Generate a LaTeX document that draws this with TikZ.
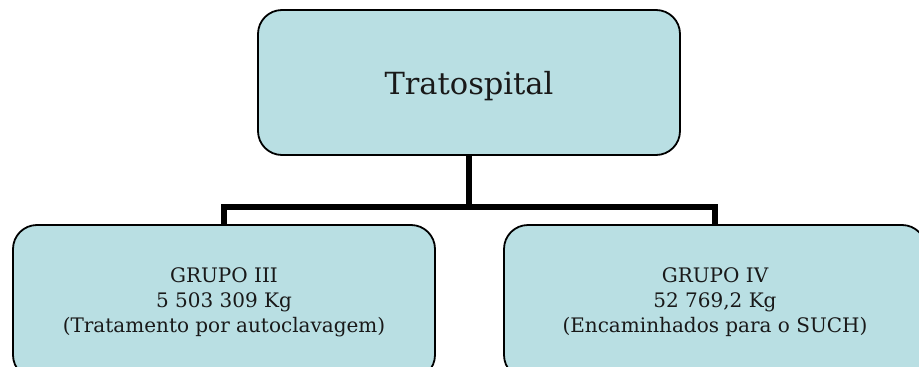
\documentclass[tikz,border=0pt]{standalone}
\usepackage{fontspec}
\setmainfont{DejaVu Serif}
\definecolor{boxfill}{RGB}{185,223,227}
\begin{document}
\begin{tikzpicture}[x=1pt,y=-1pt,
  orgbox/.style={draw=black,line width=1.8pt,fill=boxfill,rounded corners=24pt,
    minimum width=422pt,inner sep=0pt,align=center,text=black!90},
  link/.style={line width=6.5pt,draw=black}]
\useasboundingbox (0,0) rectangle (919,367);
\clip (0,0) rectangle (919,367);
\node[orgbox,minimum height=145pt] (top) at (469,82.5) {};
\node[font=\fontsize{30.5}{36}\selectfont,text=black!90] (toplabel) at (469,86) {Tratospital};
\node[orgbox,minimum height=154pt,font=\fontsize{20}{25}\selectfont] (left) at (224,302) {GRUPO III\\5 503 309 Kg\\(Tratamento por autoclavagem)};
\node[orgbox,minimum height=154pt,font=\fontsize{20}{25}\selectfont] (right) at (715,302) {GRUPO IV\\52 769,2 Kg\\(Encaminhados para o SUCH)};
\coordinate (mid) at (469,207);
\draw[link] (top.south) -- (mid);
\draw[link] (left.north) -- (left.north |- mid) -- (right.north |- mid) -- (right.north);
\end{tikzpicture}
\end{document}
